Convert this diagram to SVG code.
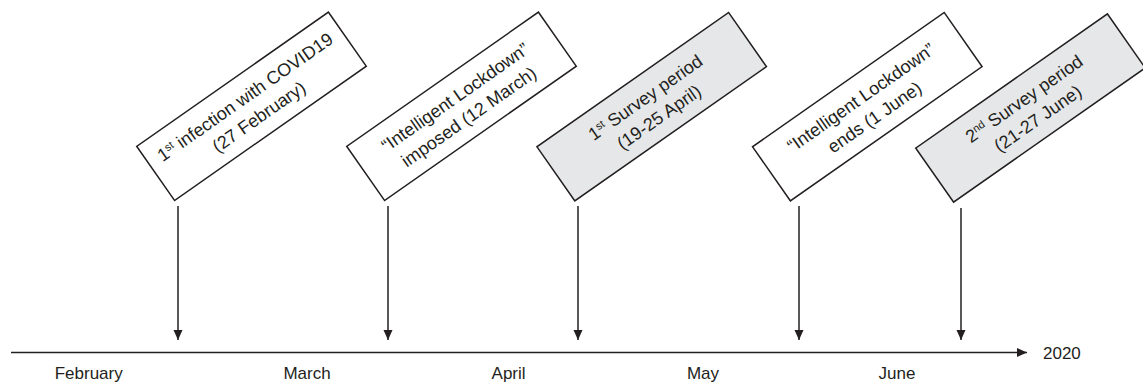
<svg xmlns="http://www.w3.org/2000/svg" width="1143" height="384" viewBox="0 0 1143 384">
<defs>
<style>
.box{fill:#ffffff;stroke:#231f20;stroke-width:1.5}
.box.gray{fill:#e6e7e8}
.bt{font-family:"Liberation Sans",Arial,sans-serif;font-size:18px;fill:#231f20;text-anchor:middle}
.sup{font-size:11px}
.ax{font-family:"Liberation Sans",Arial,sans-serif;font-size:17px;fill:#231f20}
.conn{stroke:#231f20;stroke-width:1.5;fill:none}
</style>
<marker id="ah" markerUnits="userSpaceOnUse" markerWidth="11" markerHeight="10" refX="10" refY="4.5" orient="auto">
<path d="M0,0 L10,4.5 L0,9 z" fill="#231f20"/>
</marker>
</defs>
<rect width="1143" height="384" fill="#ffffff"/>

<g id="connectors">
<line class="conn" x1="11" y1="352.5" x2="1027" y2="352.5" marker-end="url(#ah)"/>
<line class="conn" x1="178" y1="206" x2="178" y2="340" marker-end="url(#ah)"/>
<line class="conn" x1="388" y1="206" x2="388" y2="340" marker-end="url(#ah)"/>
<line class="conn" x1="578" y1="206" x2="578" y2="340" marker-end="url(#ah)"/>
<line class="conn" x1="799" y1="206" x2="799" y2="340" marker-end="url(#ah)"/>
<line class="conn" x1="961" y1="208" x2="961" y2="340" marker-end="url(#ah)"/>
</g>

<g id="event1" transform="translate(251.5,106.3) rotate(-35)">
<rect class="box" x="-117" y="-33" width="234" height="66"/>
<text class="bt" y="-5">1<tspan class="sup" dy="-6">st</tspan><tspan dy="6"> infection with COVID19</tspan></text>
<text class="bt" y="19">(27 February)</text>
</g>

<g id="event2" transform="translate(461.5,106.3) rotate(-35)">
<rect class="box" x="-117" y="-33" width="234" height="66"/>
<text class="bt" y="-5">“Intelligent Lockdown”</text>
<text class="bt" y="19">imposed (12 March)</text>
</g>

<g id="event3" transform="translate(651.7,106.7) rotate(-35)">
<rect class="box gray" x="-117" y="-33" width="234" height="66"/>
<text class="bt" y="-5">1<tspan class="sup" dy="-6">st</tspan><tspan dy="6"> Survey period</tspan></text>
<text class="bt" y="19">(19-25 April)</text>
</g>

<g id="event4" transform="translate(867.3,106.7) rotate(-35)">
<rect class="box" x="-117" y="-33" width="234" height="66"/>
<text class="bt" y="-5">“Intelligent Lockdown”</text>
<text class="bt" y="19">ends (1 June)</text>
</g>

<g id="event5" transform="translate(1030.5,108) rotate(-35)">
<rect class="box gray" x="-117" y="-33" width="234" height="66"/>
<text class="bt" y="-5">2<tspan class="sup" dy="-6">nd</tspan><tspan dy="6"> Survey period</tspan></text>
<text class="bt" y="19">(21-27 June)</text>
</g>

<g id="axis-labels">
<text class="ax" x="88.7" y="379" text-anchor="middle">February</text>
<text class="ax" x="307" y="379" text-anchor="middle">March</text>
<text class="ax" x="508.6" y="379" text-anchor="middle">April</text>
<text class="ax" x="703" y="379" text-anchor="middle">May</text>
<text class="ax" x="897" y="379" text-anchor="middle">June</text>
<text class="ax" x="1043" y="359">2020</text>
</g>
</svg>
